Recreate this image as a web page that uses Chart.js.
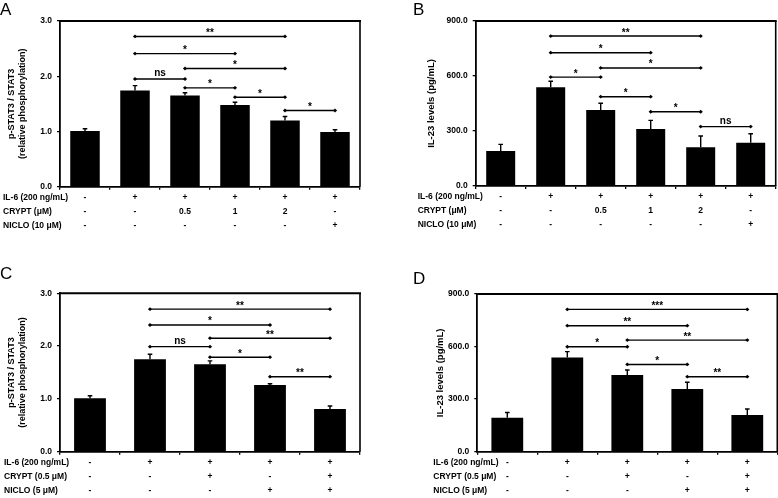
<!DOCTYPE html>
<html>
<head>
<meta charset="utf-8">
<script src="https://cdn.jsdelivr.net/npm/chart.js@4.4.1/dist/chart.umd.min.js"></script>
<style>
body { margin: 0; background: #fff; width: 778px; height: 498px; position: relative; overflow: hidden; font-family: "Liberation Sans", Arial, sans-serif; }
canvas { position: absolute; }
.tag { position: absolute; font-size: 17px; line-height: 1; color: #000; }
</style>
</head>
<body>
<canvas id="chartA" width="390" height="248" style="left:0;top:0"></canvas>
<canvas id="chartB" width="388" height="248" style="left:390px;top:0"></canvas>
<canvas id="chartC" width="390" height="248" style="left:0;top:250px"></canvas>
<canvas id="chartD" width="388" height="248" style="left:390px;top:250px"></canvas>
<div class="tag" style="left:0;top:1px">A</div>
<div class="tag" style="left:413px;top:1px">B</div>
<div class="tag" style="left:0;top:265px">C</div>
<div class="tag" style="left:413px;top:270px">D</div>
<script>
// treatment table, panels A and B
var rowNamesAB = ['IL-6 (200 ng/mL)', 'CRYPT (\u03bcM)', 'NICLO (10 \u03bcM)'];
var il6AB = ['-', '+', '+', '+', '+', '+'];
var cryptAB = ['-', '-', '0.5', '1', '2', '-'];
var nicloAB = ['-', '-', '-', '-', '-', '+'];

// treatment table, panels C and D
var rowNamesCD = ['IL-6 (200 ng/mL)', 'CRYPT (0.5 \u03bcM)', 'NICLO (5 \u03bcM)'];
var il6CD = ['-', '+', '+', '+', '+'];
var cryptCD = ['-', '-', '+', '-', '+'];
var nicloCD = ['-', '-', '-', '+', '+'];

// A: p-STAT3 / STAT3
var pstatA = [1.01, 1.74, 1.65, 1.48, 1.20, 0.99];
var pstatErrA = [0.04, 0.09, 0.05, 0.05, 0.07, 0.04];
var sigA = [[1, 4, 2.72, '**'], [1, 3, 2.41, '*'], [2, 4, 2.14, '*'], [1, 2, 1.95, 'ns'],
            [2, 3, 1.79, '*'], [3, 4, 1.62, '*'], [4, 5, 1.38, '*']];

// B: IL-23 (pg/mL)
var il23B = [191, 538, 415, 311, 211, 236];
var il23ErrB = [36, 33, 36, 47, 62, 49];
var sigB = [[1, 4, 818, '**'], [1, 3, 727, '*'], [2, 4, 644, '*'], [1, 2, 594, '*'],
            [2, 3, 487, '*'], [3, 4, 405, '*'], [4, 5, 324, 'ns']];

// C: p-STAT3 / STAT3
var pstatC = [1.01, 1.75, 1.655, 1.263, 0.81];
var pstatErrC = [0.05, 0.095, 0.065, 0.025, 0.055];
var sigC = [[1, 4, 2.70, '**'], [1, 3, 2.40, '*'], [2, 4, 2.15, '**'], [1, 2, 1.99, 'ns'],
            [2, 3, 1.79, '*'], [3, 4, 1.42, '**']];

// D: IL-23 (pg/mL)
var il23D = [194, 538, 438, 358, 209];
var il23ErrD = [30, 33, 28, 38, 35];
var sigD = [[1, 4, 812, '***'], [1, 3, 719, '**'], [2, 4, 637, '**'], [1, 2, 599, '*'],
            [2, 3, 498, '*'], [3, 4, 428, '**']];

var FONT = '"Liberation Sans", Arial, sans-serif';
var NARROW = '"Liberation Sans Narrow", "Arial Narrow", "Liberation Sans", sans-serif';

// narrow face may be missing; fall back to smaller regular size then
var probe = document.createElement('canvas').getContext('2d');
probe.font = 'bold 10px "Liberation Sans Narrow"';
var wNarrow = probe.measureText('IL-6 (200 ng/mL)').width;
probe.font = 'bold 10px "Liberation Sans"';
var hasNarrow = wNarrow < probe.measureText('IL-6 (200 ng/mL)').width * 0.9;
var TABLE_FONT = hasNarrow ? 'bold 10px ' + NARROW : 'bold 8.5px ' + FONT;

function makeChart(id, o) {
    var rows = o.rows;
    var labels = rows[0].map(function (v, i) { return rows[0][i] + '/' + rows[1][i] + '/' + rows[2][i]; });

    var extras = {
        id: 'extras',
        afterDraw: function (chart) {
            var ctx = chart.ctx, area = chart.chartArea;
            var xs = chart.scales.x, ys = chart.scales.y;
            var meta = chart.getDatasetMeta(0);
            ctx.save();
            ctx.strokeStyle = '#000';
            ctx.fillStyle = '#000';

            // frame top + right
            ctx.lineWidth = 2;
            ctx.beginPath();
            ctx.moveTo(area.left, area.top);
            ctx.lineTo(area.right + 1, area.top);
            ctx.stroke();
            ctx.lineWidth = 1.6;
            ctx.beginPath();
            ctx.moveTo(area.right, area.top);
            ctx.lineTo(area.right, area.bottom);
            ctx.stroke();

            // error bars (upper half only shows above the black bar)
            ctx.lineWidth = 1.4;
            o.errors.forEach(function (e, i) {
                var bx = meta.data[i].x;
                var y0 = ys.getPixelForValue(o.values[i]);
                var y1 = ys.getPixelForValue(o.values[i] + e);
                ctx.beginPath();
                ctx.moveTo(bx, y0);
                ctx.lineTo(bx, y1);
                ctx.moveTo(bx - 2.3, y1);
                ctx.lineTo(bx + 2.3, y1);
                ctx.stroke();
            });

            // significance brackets
            ctx.font = 'bold 10px ' + FONT;
            ctx.textAlign = 'center';
            ctx.textBaseline = 'alphabetic';
            o.sig.forEach(function (s) {
                var xa = xs.getPixelForValue(s[0]);
                var xb = xs.getPixelForValue(s[1]);
                var yy = ys.getPixelForValue(s[2]);
                ctx.lineWidth = 1.4;
                ctx.beginPath();
                ctx.moveTo(xa, yy);
                ctx.lineTo(xb, yy);
                ctx.stroke();
                [xa, xb].forEach(function (px) {
                    ctx.beginPath();
                    ctx.moveTo(px - 2.1, yy);
                    ctx.lineTo(px, yy - 1.9);
                    ctx.lineTo(px + 2.1, yy);
                    ctx.lineTo(px, yy + 1.9);
                    ctx.closePath();
                    ctx.fill();
                });
                ctx.fillText(s[3], (xa + xb) / 2, yy - (s[3] === 'ns' ? 2.5 : 0.5));
            });

            // treatment table under the axis
            var rowOff = [10.5, 25, 39];
            ctx.font = TABLE_FONT;
            ctx.textBaseline = 'middle';
            rows.forEach(function (row, r) {
                var ry = area.bottom + rowOff[r];
                ctx.textAlign = 'left';
                ctx.fillText(o.rowNames[r], o.rowX, ry);
                ctx.textAlign = 'center';
                row.forEach(function (v, i) {
                    ctx.fillText(v, xs.getPixelForValue(i), ry);
                });
            });
            ctx.restore();
        }
    };

    return new Chart(document.getElementById(id).getContext('2d'), {
        type: 'bar',
        data: {
            labels: labels,
            datasets: [{
                data: o.values,
                backgroundColor: '#000',
                borderWidth: 0,
                barPercentage: o.barPct,
                categoryPercentage: 1
            }]
        },
        options: {
            responsive: false,
            animation: false,
            devicePixelRatio: 1,
            layout: {
                padding: { left: o.padLeft, top: o.padTop, right: o.padRight, bottom: 0 }
            },
            scales: {
                x: {
                    offset: true,
                    grid: { display: true, drawOnChartArea: false, drawTicks: true, tickLength: 3, color: '#000', lineWidth: 1.3, offset: true },
                    border: { display: true, color: '#000', width: 1.8 },
                    ticks: { display: false },
                    afterFit: function (s) { s.height = o.xHeight; }
                },
                y: {
                    min: 0,
                    max: o.max,
                    grid: { display: true, drawOnChartArea: false, drawTicks: true, tickLength: 3, color: '#000', lineWidth: 1.3 },
                    border: { display: true, color: '#000', width: 1.8 },
                    ticks: {
                        stepSize: o.step,
                        padding: 5,
                        color: '#000',
                        font: { family: FONT, size: 8.5, weight: 'bold' },
                        callback: function (v) { return v.toFixed(1); }
                    },
                    title: {
                        display: true,
                        text: o.title,
                        color: '#000',
                        padding: { top: 0, bottom: 0 },
                        font: hasNarrow
                            ? { family: NARROW, size: o.titleSize + 1.5, weight: 'bold', lineHeight: 1.05 }
                            : { family: FONT, size: o.titleSize, weight: 'bold', lineHeight: 1.2 }
                    },
                    afterFit: function (s) { s.width = o.yWidth; }
                }
            },
            plugins: {
                legend: { display: false },
                tooltip: { enabled: false }
            }
        },
        plugins: [extras]
    });
}

makeChart('chartA', {
    values: pstatA, errors: pstatErrA, sig: sigA,
    rows: [il6AB, cryptAB, nicloAB], rowNames: rowNamesAB, rowX: 3,
    max: 3, step: 1, title: ['p-STAT3 / STAT3', '(relative phosphorylation)'], titleSize: 9,
    padLeft: 6.6, yWidth: 53.4, padTop: 21, padRight: 30, xHeight: 61.3, barPct: 0.59
});
makeChart('chartB', {
    values: il23B, errors: il23ErrB, sig: sigB,
    rows: [il6AB, cryptAB, nicloAB], rowNames: rowNamesAB, rowX: 27.7,
    max: 900, step: 300, title: 'IL-23 levels (pg/mL)', titleSize: 9.5,
    padLeft: 36, yWidth: 49.7, padTop: 21, padRight: 2.3, xHeight: 62, barPct: 0.58
});
makeChart('chartC', {
    values: pstatC, errors: pstatErrC, sig: sigC,
    rows: [il6CD, cryptCD, nicloCD], rowNames: rowNamesCD, rowX: 4,
    max: 3, step: 1, title: ['p-STAT3 / STAT3', '(relative phosphorylation)'], titleSize: 9,
    padLeft: 6.3, yWidth: 53.7, padTop: 43.3, padRight: 30, xHeight: 46.3, barPct: 0.53
});
makeChart('chartD', {
    values: il23D, errors: il23ErrD, sig: sigD,
    rows: [il6CD, cryptCD, nicloCD], rowNames: rowNamesCD, rowX: 43.3,
    max: 900, step: 300, title: 'IL-23 levels (pg/mL)', titleSize: 9.5,
    padLeft: 44.3, yWidth: 43, padTop: 44, padRight: 0.7, xHeight: 46.3, barPct: 0.53
});
</script>
</body>
</html>
